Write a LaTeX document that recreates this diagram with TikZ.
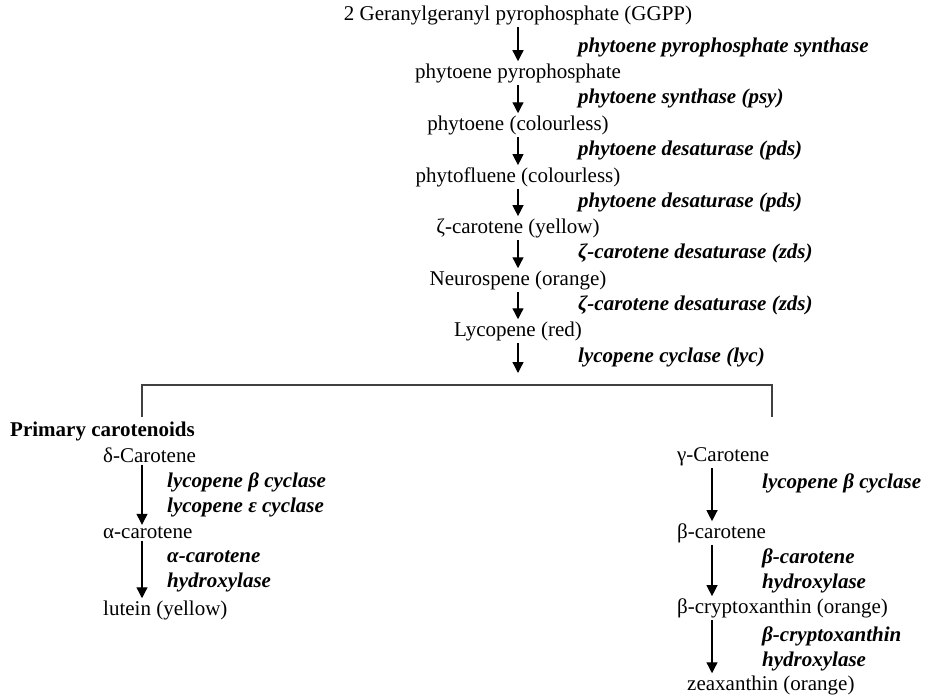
\documentclass[tikz,border=0pt]{standalone}
\usepackage{fontspec}
\setmainfont{Liberation Serif}
\usetikzlibrary{arrows.meta,positioning,calc}
\tikzset{
  compound/.style={font=\fontsize{21}{25}\selectfont,inner sep=2pt},
  enzyme/.style={font=\fontsize{21}{25}\selectfont\bfseries\itshape,inner sep=2pt,anchor=west,align=left},
  heading/.style={font=\fontsize{21}{25}\selectfont\bfseries,inner sep=2pt,anchor=west},
  arr/.style={-{Triangle[length=11pt,width=11pt]},line width=1.3pt},
  tree/.style={line width=1.3pt,draw=black!75}
}
\begin{document}
\begin{tikzpicture}[x=1pt,y=-1pt]
\path[use as bounding box] (0,0) rectangle (928,696);
% main chain
\foreach \i/\y/\txt in {
1/15/{2 Geranylgeranyl pyrophosphate (GGPP)},
2/73/{phytoene pyrophosphate},
3/125/{phytoene (colourless)},
4/177/{phytofluene (colourless)},
5/228/{ζ-carotene (yellow)},
6/280/{Neurospene (orange)},
7/331/{Lycopene (red)}}
{\node[compound] (c\i) at (518,\y) {\txt};}
\foreach \i/\y/\txt in {
1/47/{phytoene pyrophosphate synthase},
2/98/{phytoene synthase (psy)},
3/150/{phytoene desaturase (pds)},
4/202/{phytoene desaturase (pds)},
5/253/{ζ-carotene desaturase (zds)},
6/305/{ζ-carotene desaturase (zds)},
7/357/{lycopene cyclase (lyc)}}
{\node[enzyme] (e\i) at (576,\y) {\txt};}
\foreach \i [evaluate=\i as \j using int(\i+1)] in {1,...,6}
{\draw[arr] (c\i) -- (c\j);}
% split
\coordinate (split) at (518,385);
\coordinate (lb) at (142,417);
\coordinate (rb) at (772,417);
\draw[arr,shorten >=12pt] (c7) -- (split);
\draw[tree] (lb) |- (split) -| (rb);
% left branch
\node[heading] (prim) at (8,431) {Primary carotenoids};
\node[compound,anchor=west] (delta) at (101,455) {δ-Carotene};
\node[compound,anchor=west] (alpha) at (101,533) {α-carotene};
\node[compound,anchor=west] (lutein) at (101,610) {lutein (yellow)};
\node[enzyme] (lcyc) at (165,494.5) {lycopene β cyclase\\lycopene ε cyclase};
\node[enzyme] (ahyd) at (165,571.5) {α-carotene\\hydroxylase};
\draw[arr] (lb |- delta.south) -- (lb |- alpha.north);
\draw[arr] (lb |- alpha.south) -- (lb |- lutein.north);
% right branch
\coordinate (ra) at (712,0);
\node[compound,anchor=west] (gamma) at (675,457) {γ-Carotene};
\node[compound,anchor=west] (beta) at (675,533) {β-carotene};
\node[compound,anchor=west] (crypto) at (675,608) {β-cryptoxanthin (orange)};
\node[compound,anchor=west] (zea) at (685,685) {zeaxanthin (orange)};
\node[enzyme] (bcyc) at (760,483) {lycopene β cyclase};
\node[enzyme] (bhyd) at (760,571) {β-carotene\\hydroxylase};
\node[enzyme] (chyd) at (760,648.5) {β-cryptoxanthin\\hydroxylase};
\draw[arr] (ra |- gamma.south) -- (ra |- beta.north);
\draw[arr] (ra |- beta.south) -- (ra |- crypto.north);
\draw[arr] (ra |- crypto.south) -- (ra |- zea.north);
\end{tikzpicture}
\end{document}
